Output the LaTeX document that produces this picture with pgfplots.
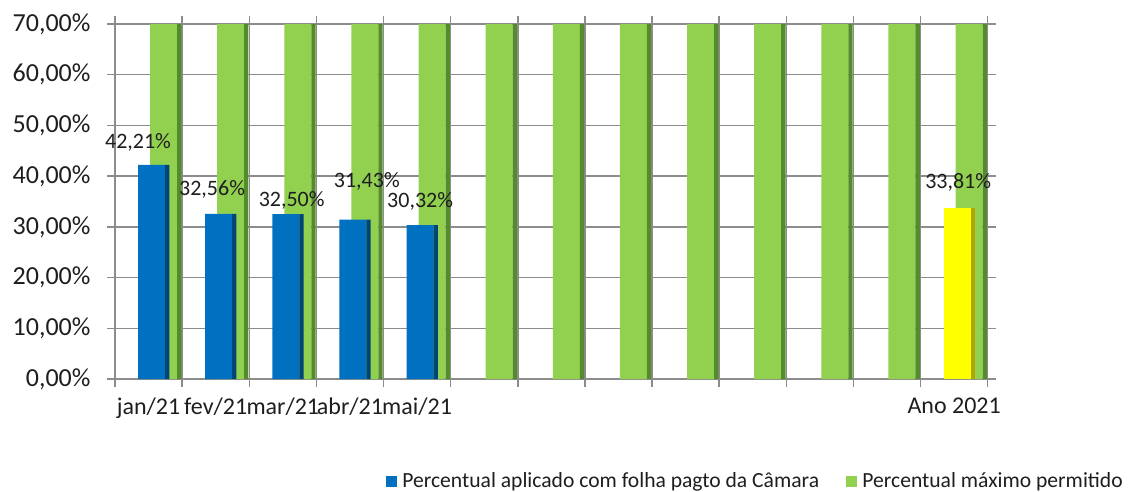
\documentclass[border=0pt]{standalone}
\usepackage{fontspec}
\setmainfont{Carlito}
\usepackage{pgfplots}
\pgfplotsset{compat=1.18}

\definecolor{barblue}{RGB}{0,112,192}
\definecolor{barbluedk}{RGB}{0,68,120}
\definecolor{bargreen}{RGB}{146,208,80}
\definecolor{bargreendk}{RGB}{84,140,44}
\definecolor{baryellow}{RGB}{255,255,0}
\definecolor{baryellowdk}{RGB}{176,166,0}
\definecolor{gridgray}{RGB}{140,140,140}
\definecolor{txt}{RGB}{30,30,30}

\begin{document}
\begin{tikzpicture}
\path[use as bounding box] (-115pt,-112pt) rectangle (1014pt,379pt);
\begin{axis}[
    at={(0,0)}, anchor=south west,
    scale only axis,
    width=872.7pt, height=355pt,
    xmin=-0.5, xmax=12.5,
    ymin=0, ymax=70,
    xtick={-0.5,0.5,...,12.5},
    x tick label as interval,
    xticklabels={jan/21,fev/21,mar/21,abr/21,mai/21,,,,,,,,Ano 2021},
    ytick={0,10,...,70},
    yticklabels={{0,00\%},{10,00\%},{20,00\%},{30,00\%},{40,00\%},{50,00\%},{60,00\%},{70,00\%}},
    xmajorgrids, ymajorgrids,
    grid style={gridgray, line width=1.5pt},
    axis line style={gridgray, line width=1.5pt},
    tick style={gridgray, line width=1.5pt},
    tick align=outside,
    major tick length=8pt,
    x tick label style={font=\fontsize{24}{27}\selectfont, text=txt, yshift=-7pt},
    y tick label style={font=\fontsize{26}{29}\selectfont, text=txt, xshift=-13pt},
    legend style={draw=none, fill=none, at={(0.307,-0.287)}, anchor=west,
        font=\fontsize{21.6}{25}\selectfont, text=txt, legend columns=2,
        /tikz/every even column/.append style={column sep=25pt}},
    legend image code/.code={\fill[#1] (0pt,-5pt) rectangle (10pt,5pt);
        \path[draw=none, fill=none] (0pt,0pt) -- (14pt,0pt);},
]
\addlegendimage{barblue}
\addlegendentry{Percentual aplicado com folha pagto da Câmara}
\addlegendimage{bargreen}
\addlegendentry{Percentual máximo permitido}

% green: maximum permitted
\addplot[ybar, forget plot, draw=none, fill=bargreen, bar width=0.402, bar shift=0.223]
  coordinates {(0,70) (1,70) (2,70) (3,70) (4,70) (5,70) (6,70) (7,70) (8,70) (9,70) (10,70) (11,70) (12,70)};
\addplot[ybar, forget plot, draw=none, fill=bargreendk, bar width=0.064, bar shift=0.456]
  coordinates {(0,70) (1,70) (2,70) (3,70) (4,70) (5,70) (6,70) (7,70) (8,70) (9,70) (10,70) (11,70) (12,70)};
% blue: monthly values
\addplot[ybar, forget plot, draw=none, fill=barblue, bar width=0.402, bar shift=0.044]
  coordinates {(0,42.21) (1,32.56) (2,32.50) (3,31.43) (4,30.32)};
\addplot[ybar, forget plot, draw=none, fill=barbluedk, bar width=0.064, bar shift=0.277]
  coordinates {(0,42.21) (1,32.56) (2,32.50) (3,31.43) (4,30.32)};
% yellow: year
\addplot[ybar, forget plot, draw=none, fill=baryellow, bar width=0.402, bar shift=0.044]
  coordinates {(12,33.81)};
\addplot[ybar, forget plot, draw=none, fill=baryellowdk, bar width=0.064, bar shift=0.277]
  coordinates {(12,33.81)};

% data labels
\addplot[forget plot, only marks, mark=none, nodes near coords,
    point meta=explicit symbolic,
    every node near coord/.style={anchor=center, inner sep=0pt, text=txt,
        font=\fontsize{22}{25}\selectfont}]
  coordinates {(-0.157,46.7) [42,21\%] (0.946,37.3) [32,56\%] (2.132,35.3) [32,50\%]
               (3.251,38.9) [31,43\%] (4.045,35.1) [30,32\%] (12.06,38.7) [33,81\%]};
\end{axis}
\end{tikzpicture}
\end{document}
